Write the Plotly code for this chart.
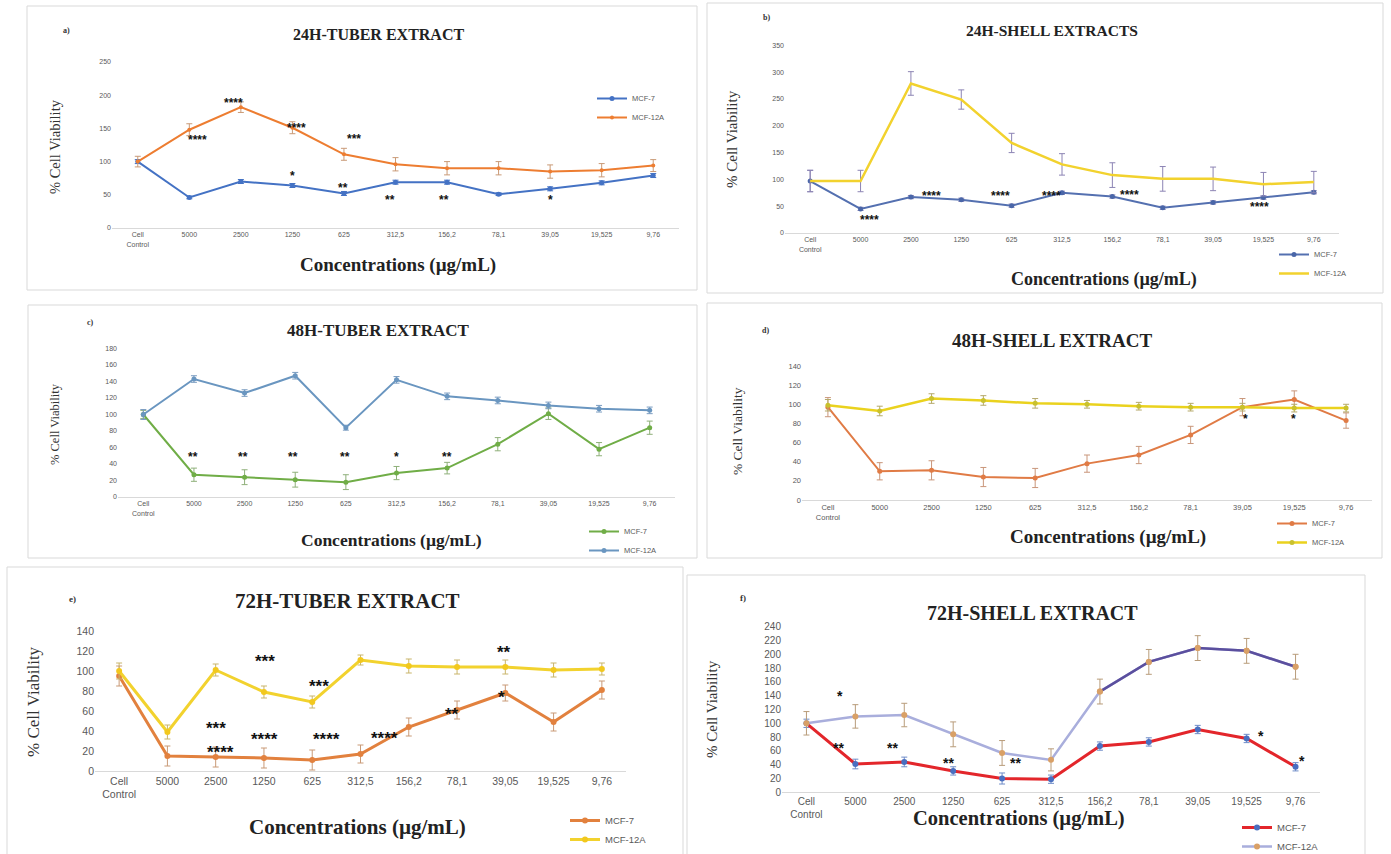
import plotly.graph_objects as go

W, H = 1391, 854

# ---------------- data ----------------
categories = ["Cell Control", "5000", "2500", "1250", "625", "312,5", "156,2", "78,1", "39,05", "19,525", "9,76"]
tick_labels = ["Cell<br>Control", "5000", "2500", "1250", "625", "312,5", "156,2", "78,1", "39,05", "19,525", "9,76"]
series_names = ["MCF-7", "MCF-12A"]

a_mcf7 = [100, 46, 70, 64, 52, 69, 69, 51, 59, 68, 79]
a_mcf7_err = [3, 2, 3, 3, 3, 3, 3, 2, 3, 3, 3]
a_mcf12a = [100, 148, 182, 151, 111, 96, 90, 90, 85, 87, 94]
a_mcf12a_err = [8, 9, 8, 9, 9, 10, 10, 10, 10, 10, 9]

b_mcf7 = [97, 45, 67, 62, 51, 75, 68, 47, 57, 66, 76]
b_mcf7_err = [20, 3, 3, 3, 3, 3, 3, 3, 3, 3, 3]
b_mcf12a = [97, 97, 279, 249, 168, 128, 108, 101, 101, 91, 95]
b_mcf12a_err = [20, 20, 22, 18, 18, 20, 23, 23, 22, 22, 20]

c_mcf7 = [100, 27, 24, 21, 18, 29, 35, 64, 101, 58, 84]
c_mcf7_err = [5, 8, 9, 9, 9, 8, 7, 8, 7, 8, 8]
c_mcf12a = [100, 143, 126, 147, 84, 142, 122, 117, 111, 107, 105]
c_mcf12a_err = [6, 4, 4, 4, 3, 4, 4, 4, 4, 4, 4]

d_mcf7 = [97, 30, 31, 24, 23, 38, 47, 68, 97, 105, 83]
d_mcf7_err = [10, 9, 10, 10, 10, 9, 9, 9, 9, 9, 8]
d_mcf12a = [99, 93, 106, 104, 101, 100, 98, 97, 97, 96, 96]
d_mcf12a_err = [6, 5, 5, 5, 5, 4, 4, 4, 4, 4, 4]

e_mcf7 = [95, 15, 14, 13, 11, 17, 44, 61, 78, 49, 81]
e_mcf7_err = [10, 10, 10, 10, 10, 9, 9, 9, 8, 9, 9]
e_mcf12a = [100, 39, 101, 79, 69, 111, 105, 104, 104, 101, 102]
e_mcf12a_err = [8, 7, 6, 6, 6, 5, 7, 7, 7, 7, 6]

f_mcf7 = [100, 41, 44, 31, 20, 19, 67, 73, 91, 78, 37]
f_mcf7_err = [6, 7, 7, 6, 8, 6, 6, 6, 6, 6, 6]
f_mcf12a = [100, 110, 112, 84, 57, 47, 146, 189, 209, 205, 182]
f_mcf12a_err = [17, 17, 17, 18, 18, 16, 18, 18, 18, 18, 18]

# significance marks: (category index position, value, text)
a_stars = [(1.15, 137, "****"), (1.86, 193, "****"), (3.0, 83, "*"), (3.07, 155, "****"),
           (4.2, 139, "***"), (3.98, 64, "**"), (4.9, 46, "**"), (5.95, 46, "**"), (8.0, 47, "*")]
b_stars = [(1.17, 30, "****"), (2.41, 75, "****"), (3.77, 75, "****"), (4.8, 75, "****"),
           (6.35, 77, "****"), (8.92, 54, "****")]
c_stars = [(0.98, 52, "**"), (1.97, 52, "**"), (2.96, 52, "**"), (3.98, 52, "**"),
           (5.0, 52, "*"), (5.99, 52, "**")]
d_stars = [(8.06, 88, "*"), (8.98, 88, "*")]
e_stars = [(2.0, 47, "***"), (2.1, 23, "****"), (3.02, 114, "***"), (3.02, 36, "****"),
           (4.13, 89, "***"), (4.3, 36, "****"), (5.5, 37, "****"), (6.9, 61, "**"),
           (7.98, 123, "**"), (7.92, 78, "*")]
f_stars = [(0.68, 144, "*"), (0.66, 70, "**"), (1.76, 70, "**"), (2.9, 47, "**"),
           (4.28, 47, "**"), (9.3, 86, "*"), (10.13, 51, "*")]

# ---------------- helpers ----------------
def fx(p):
    return p / W

def fy(p):
    return 1 - p / H

SERIF = "Liberation Serif, Times New Roman, serif"
SANS = "Liberation Sans, Arial, sans-serif"
TICK_COLOR = "#595959"
FRAME = "#D9D9D9"

panels = [
    dict(label="a)", label_pos=(66, 30), title="24H-TUBER EXTRACT", title_pos=(378, 34), title_size=16,
         frame=(27, 6, 697, 290), plot=(112, 679, 62, 228), yrange=(0, 250), dtick=50, tick_size=7,
         xtitle_pos=(398, 265), xtitle_size=19, ytitle_pos=(55, 147), ytitle_size=14.5,
         legend=(592, 84), legend_size=7.5, star_size=12, stars=a_stars,
         traces=[(a_mcf7, a_mcf7_err, "#4472C4", "#4472C4", 2, 5, "#4472C4"),
                 (a_mcf12a, a_mcf12a_err, "#ED7D31", "#ED7D31", 2, 4, "#C99A77")]),
    dict(label="b)", label_pos=(767, 17), title="24H-SHELL EXTRACTS", title_pos=(1052, 30), title_size=15.5,
         frame=(707, 3, 1383, 293), plot=(785, 1339, 45.4, 233), yrange=(0, 350), dtick=50, tick_size=7,
         xtitle_pos=(1104, 279), xtitle_size=18, ytitle_pos=(732, 139), ytitle_size=15,
         legend=(1274, 240), legend_size=7.5, star_size=12, stars=b_stars,
         traces=[(b_mcf7, b_mcf7_err, "#5470B0", "#4A66A8", 2, 5, "#8C84B4"),
                 (b_mcf12a, b_mcf12a_err, "#F2D22E", "#F2D22E", 2.5, 0, "#8C84B4")]),
    dict(label="c)", label_pos=(90, 322), title="48H-TUBER EXTRACT", title_pos=(378, 330), title_size=17,
         frame=(28, 305, 697, 558), plot=(118, 675, 348.5, 497), yrange=(0, 180), dtick=20, tick_size=7,
         xtitle_pos=(391, 540), xtitle_size=17.5, ytitle_pos=(55, 424), ytitle_size=12.5,
         legend=(584, 517), legend_size=7.5, star_size=12, stars=c_stars,
         traces=[(c_mcf7, c_mcf7_err, "#70AD47", "#70AD47", 2, 5, "#8FB07A"),
                 (c_mcf12a, c_mcf12a_err, "#6A96C0", "#6A96C0", 2, 5, "#7A9CC0")]),
    dict(label="d)", label_pos=(765, 330), title="48H-SHELL EXTRACT", title_pos=(1052, 340), title_size=19,
         frame=(707, 303, 1382, 558), plot=(802, 1372, 366, 500), yrange=(0, 140), dtick=20, tick_size=7.5,
         xtitle_pos=(1108, 537), xtitle_size=19, ytitle_pos=(737, 431), ytitle_size=13.5,
         legend=(1272, 509), legend_size=7.5, star_size=12, stars=d_stars,
         traces=[(d_mcf7, d_mcf7_err, "#E07B45", "#E07B45", 2, 5, "#C9967A"),
                 (d_mcf12a, d_mcf12a_err, "#EAD21E", "#C9C12E", 2.5, 5, "#B5A96A")]),
    dict(label="e)", label_pos=(72, 599), title="72H-TUBER EXTRACT", title_pos=(348, 601), title_size=21,
         frame=(7, 567, 683, 860), plot=(95, 626, 631, 771), yrange=(0, 140), dtick=20, tick_size=10.5,
         xtitle_pos=(357, 827), xtitle_size=21, ytitle_pos=(33, 702), ytitle_size=17,
         legend=(565, 806), legend_size=9.5, star_size=17, stars=e_stars,
         traces=[(e_mcf7, e_mcf7_err, "#E2813E", "#E2813E", 3, 6, "#C99A77"),
                 (e_mcf12a, e_mcf12a_err, "#F2D22E", "#F2C81E", 3, 6, "#C9B56A")]),
    dict(label="f)", label_pos=(743, 598), title="72H-SHELL EXTRACT", title_pos=(1032, 613), title_size=20,
         frame=(687, 575, 1365, 860), plot=(782, 1320, 626.7, 792.3), yrange=(0, 240), dtick=20, tick_size=10,
         xtitle_pos=(1019, 818), xtitle_size=20.5, ytitle_pos=(712, 709), ytitle_size=15,
         legend=(1237, 813), legend_size=9.5, star_size=14, stars=f_stars,
         traces=[(f_mcf7, f_mcf7_err, "#E3262B", "#4A6FC0", 3, 6, "#6E8CC8"),
                 (f_mcf12a, f_mcf12a_err, "#A9AEDC", "#D9A066", 2.5, 6, "#B89C7A")]),
]

fig = go.Figure()
annotations = []
shapes = []
layout = dict()

for i, p in enumerate(panels, start=1):
    sfx = "" if i == 1 else str(i)
    xa, ya = "x" + sfx, "y" + sfx
    leg = "legend" + sfx
    x0, x1, ytop, ybot = p["plot"]

    for (vals, errs, lcol, mcol, lw, ms, ecol), name in zip(p["traces"], series_names):
        fig.add_trace(go.Scatter(
            x=categories, y=vals, name=name, xaxis=xa, yaxis=ya, legend=leg,
            mode="lines+markers" if ms > 0 else "lines",
            line=dict(color=lcol, width=lw),
            marker=dict(color=mcol, size=ms, symbol="circle"),
            error_y=dict(type="data", array=errs, color=ecol, thickness=1, width=3),
        ))
    # panel f: the MCF-12A line is drawn darker from 156,2 onwards
    if i == 6:
        fig.add_trace(go.Scatter(
            x=categories[6:], y=f_mcf12a[6:], xaxis=xa, yaxis=ya, showlegend=False,
            mode="lines+markers", line=dict(color="#5B4F9E", width=2.5),
            marker=dict(color="#D9A066", size=6), hoverinfo="skip"))

    layout["xaxis" + sfx] = dict(
        domain=[fx(x0), fx(x1)], anchor=ya, type="category", range=[-0.5, 10.5],
        tickvals=categories, ticktext=tick_labels, tickfont=dict(size=p["tick_size"], color=TICK_COLOR, family=SANS),
        showline=True, linecolor=FRAME, linewidth=1, showgrid=False, ticks="", zeroline=False,
        fixedrange=True, automargin=False)
    layout["yaxis" + sfx] = dict(
        domain=[fy(ybot), fy(ytop)], anchor=xa, range=list(p["yrange"]), dtick=p["dtick"],
        tickfont=dict(size=p["tick_size"], color=TICK_COLOR, family=SANS),
        showgrid=False, zeroline=False, showline=False, ticks="", fixedrange=True, automargin=False)

    lx, ly = p["legend"]
    layout[leg] = dict(x=fx(lx), y=fy(ly), xanchor="left", yanchor="top",
                       font=dict(size=p["legend_size"], color=TICK_COLOR, family=SANS),
                       bgcolor="rgba(0,0,0,0)", borderwidth=0, itemwidth=30,
                       tracegroupgap=0, traceorder="normal")

    fx0, fy0, fx1, fy1 = p["frame"]
    shapes.append(dict(type="rect", xref="paper", yref="paper",
                       x0=fx(fx0), x1=fx(fx1), y0=fy(fy1), y1=fy(fy0),
                       line=dict(color=FRAME, width=1), fillcolor="rgba(0,0,0,0)", layer="below"))

    tx, ty = p["title_pos"]
    annotations.append(dict(text="<b>%s</b>" % p["title"], x=fx(tx), y=fy(ty), xref="paper", yref="paper",
                            showarrow=False, xanchor="center", yanchor="middle",
                            font=dict(family=SERIF, size=p["title_size"], color="#222222")))
    cx, cy = p["xtitle_pos"]
    annotations.append(dict(text="<b>Concentrations (µg/mL)</b>", x=fx(cx), y=fy(cy), xref="paper", yref="paper",
                            showarrow=False, xanchor="center", yanchor="middle",
                            font=dict(family=SERIF, size=p["xtitle_size"], color="#222222")))
    vx, vy = p["ytitle_pos"]
    annotations.append(dict(text="% Cell Viability", x=fx(vx), y=fy(vy), xref="paper", yref="paper",
                            showarrow=False, xanchor="center", yanchor="middle", textangle=-90,
                            font=dict(family=SERIF, size=p["ytitle_size"], color="#333333")))
    bx, by = p["label_pos"]
    annotations.append(dict(text="<b>%s</b>" % p["label"], x=fx(bx), y=fy(by), xref="paper", yref="paper",
                            showarrow=False, xanchor="center", yanchor="middle",
                            font=dict(family=SERIF, size=8 if i <= 4 else 9, color="#333333")))
    for sx, sy, st in p["stars"]:
        annotations.append(dict(text="<b>%s</b>" % st, x=sx, y=sy, xref=xa, yref=ya,
                                showarrow=False, xanchor="center", yanchor="middle",
                                yshift=-p["star_size"] * 0.25,
                                font=dict(family=SANS, size=p["star_size"], color="#111111")))

layout.update(
    width=W, height=H, margin=dict(l=0, r=0, t=0, b=0, autoexpand=False),
    paper_bgcolor="white", plot_bgcolor="white",
    annotations=annotations, shapes=shapes, hovermode=False,
)
fig.update_layout(**layout)
fig.write_html("out.html")
